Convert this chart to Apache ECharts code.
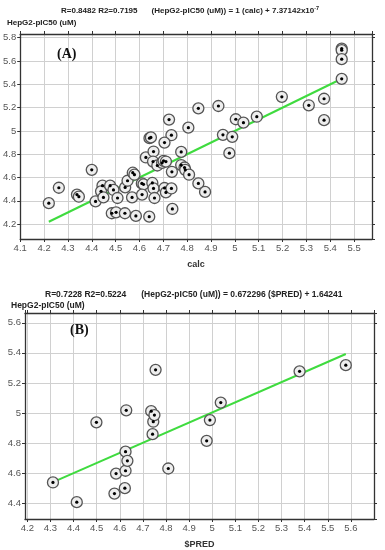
<!DOCTYPE html>
<html><head><meta charset="utf-8">
<script src="https://cdn.jsdelivr.net/npm/echarts@6/dist/echarts.min.js"></script>
<style>html,body{margin:0;padding:0;background:#fff}#c{width:385px;height:550px}</style>
</head><body><div id="c"></div>
<script>
// ---- Chart (A): calc vs observed HepG2-pIC50 ----
const calcA = [4.22,4.262,4.338,4.346,4.40,4.416,4.445,4.439,4.449,4.477,4.484,4.502,4.491,4.508,4.540,4.550,4.539,4.572,4.579,4.569,4.585,4.610,4.617,4.611,4.627,4.641,4.654,4.659,4.663,4.659,4.657,4.675,4.695,4.701,4.711,4.705,4.711,4.738,4.736,4.734,4.775,4.775,4.789,4.792,4.808,4.847,4.875,4.977,4.642,4.648,4.724,4.734,4.705,4.805,4.847,4.931,5.004,5.036,5.092,4.950,4.989,5.197,5.310,5.374,5.374,5.448,5.448,5.448,5.448];
const obsA  = [4.38,4.512,4.453,4.435,4.666,4.395,4.530,4.481,4.429,4.530,4.293,4.301,4.493,4.424,4.515,4.572,4.293,4.641,4.624,4.429,4.270,4.549,4.541,4.453,4.772,4.264,4.553,4.506,4.424,4.823,4.737,4.703,4.726,4.743,4.737,4.510,4.472,4.330,4.649,4.506,4.820,4.707,4.686,4.666,4.624,4.549,4.476,4.809,4.938,4.944,5.097,4.963,4.900,5.028,5.194,5.214,5.100,5.071,5.122,4.966,4.949,5.293,5.220,5.276,5.092,5.707,5.693,5.616,5.447];
const fitA = { slope: 1, intercept: 7.37142e-7 };
const titleA = ['R=0.8482 R2=0.7195', '(HepG2-pIC50 (uM)) = 1 (calc) + 7.37142x10', '-7'];
const xNameA = 'calc';
const xRangeA = [4.1, 5.575];
const yRangeA = [4.072, 5.832];

// ---- Chart (B): $PRED vs observed HepG2-pIC50 ----
const predB = [4.311,4.414,4.499,4.577,4.584,4.622,4.625,4.625,4.633,4.628,4.736,4.742,4.745,4.750,4.755,4.810,4.976,4.990,5.037,5.378,5.578];
const obsB  = [4.538,4.407,4.938,4.464,4.597,4.500,4.616,4.743,4.682,5.018,5.012,4.859,4.942,4.986,5.287,4.631,4.815,4.953,5.069,5.277,5.318];
const fitB = { slope: 0.672296, intercept: 1.64241 };
const titleB = ['R=0.7228 R2=0.5224', '(HepG2-pIC50 (uM)) = 0.672296 ($PRED) + 1.64241'];
const xNameB = '$PRED';
const xRangeB = [4.19, 5.7];
const yRangeB = [4.295, 5.665];

const yName = 'HepG2-pIC50 (uM)';
const panelA = '(A)';
const panelB = '(B)';

const GREEN = '#3fdb3f';
const FONT = "'Liberation Sans', Arial, sans-serif";
const SERIF = "'Liberation Serif', 'Times New Roman', serif";

function pairs(xs, ys) { return xs.map((x, i) => [x, ys[i]]); }
function fitLine(xs, fit) {
  const lo = Math.min(...xs), hi = Math.max(...xs);
  return [[lo, fit.slope * lo + fit.intercept], [hi, fit.slope * hi + fit.intercept]];
}

function mainX(grid, range, split, name, showMin) {
  return {
    type: 'value', gridIndex: grid, position: 'bottom', min: range[0], max: range[1], splitNumber: split,
    name: name, nameLocation: 'middle', nameGap: 21,
    nameTextStyle: { fontFamily: FONT, fontSize: 9, fontWeight: 'bold', color: '#333' },
    axisLine: { show: true, onZero: false, lineStyle: { color: '#333', width: 1.3 } },
    axisTick: { show: true, length: 3, lineStyle: { color: '#333' } },
    axisLabel: { fontFamily: FONT, fontSize: 9.5, color: '#555', margin: 4, showMinLabel: showMin, showMaxLabel: false },
    splitLine: { show: true, lineStyle: { color: '#d0d0d0', width: 1 } }
  };
}
function sideX(grid, range, split) {
  return {
    type: 'value', gridIndex: grid, position: 'top', min: range[0], max: range[1], splitNumber: split,
    axisLine: { show: true, onZero: false, lineStyle: { color: '#333', width: 1.3 } },
    axisTick: { show: true, length: 3, lineStyle: { color: '#333' } },
    axisLabel: { show: false }, splitLine: { show: false }
  };
}
function mainY(grid, range, split) {
  return {
    type: 'value', gridIndex: grid, position: 'left', min: range[0], max: range[1], splitNumber: split,
    axisLine: { show: true, onZero: false, lineStyle: { color: '#333', width: 1.3 } },
    axisTick: { show: true, length: 3, lineStyle: { color: '#333' } },
    axisLabel: { fontFamily: FONT, fontSize: 9.5, color: '#555', margin: 4, showMinLabel: false, showMaxLabel: false },
    splitLine: { show: true, lineStyle: { color: '#d0d0d0', width: 1 } }
  };
}
function sideY(grid, range, split) {
  return {
    type: 'value', gridIndex: grid, position: 'right', min: range[0], max: range[1], splitNumber: split,
    axisLine: { show: true, onZero: false, lineStyle: { color: '#333', width: 1.3 } },
    axisTick: { show: true, length: 3, lineStyle: { color: '#333' } },
    axisLabel: { show: false }, splitLine: { show: false }
  };
}
function seriesFor(xi, yi, xs, ys, fit) {
  const pts = pairs(xs, ys);
  return [
    { type: 'line', xAxisIndex: xi, yAxisIndex: yi, data: fitLine(xs, fit), symbol: 'none', z: 2,
      lineStyle: { color: GREEN, width: 2 }, silent: true },
    { type: 'scatter', xAxisIndex: xi, yAxisIndex: yi, data: pts, symbol: 'circle', symbolSize: 11, z: 3,
      itemStyle: { color: '#eeeeee', borderColor: '#555', borderWidth: 1.3, opacity: 1 } },
    { type: 'scatter', xAxisIndex: xi, yAxisIndex: yi, data: pts, symbol: 'circle', symbolSize: 3.2, z: 4,
      itemStyle: { color: '#000', opacity: 1 } }
  ];
}

const chart = echarts.init(document.getElementById('c'), null, { renderer: 'canvas' });
chart.setOption({
  animation: false,
  backgroundColor: '#fff',
  title: [
    { left: 61, top: 2, padding: 0, text: '{a|' + titleA[0] + '}{g|}{a|' + titleA[1] + '}{s|' + titleA[2] + '}',
      textStyle: { rich: {
        a: { fontFamily: FONT, fontSize: 8, color: '#222' },
        g: { width: 14 },
        s: { fontFamily: FONT, fontSize: 5.5, color: '#222', padding: [0, 0, 6, 0] } } } },
    { left: 7, top: 19, padding: 0, text: yName, textStyle: { fontFamily: FONT, fontSize: 8, fontWeight: 'bold', color: '#222' } },
    { left: 57, top: 47, padding: 0, text: panelA, textStyle: { fontFamily: SERIF, fontSize: 14, fontWeight: 'bold', color: '#111' } },
    { left: 45, top: 286, padding: 0, text: '{a|' + titleB[0] + '}{g|}{a|' + titleB[1] + '}',
      textStyle: { rich: {
        a: { fontFamily: FONT, fontSize: 8.5, color: '#222' },
        g: { width: 15 } } } },
    { left: 11, top: 301, padding: 0, text: yName, textStyle: { fontFamily: FONT, fontSize: 8.5, fontWeight: 'bold', color: '#222' } },
    { left: 70, top: 323, padding: 0, text: panelB, textStyle: { fontFamily: SERIF, fontSize: 14, fontWeight: 'bold', color: '#111' } }
  ],
  grid: [
    { left: 20, right: 13, top: 34, height: 205, containLabel: false },
    { left: 25, right: 11, top: 313, height: 209, containLabel: false }
  ],
  xAxis: [
    mainX(0, xRangeA, 14, xNameA, true), sideX(0, xRangeA, 14),
    mainX(1, xRangeB, 15, xNameB, false), sideX(1, xRangeB, 15)
  ],
  yAxis: [
    mainY(0, yRangeA, 9), sideY(0, yRangeA, 9),
    mainY(1, yRangeB, 7), sideY(1, yRangeB, 7)
  ],
  series: [
    ...seriesFor(0, 0, calcA, obsA, fitA),
    ...seriesFor(2, 2, predB, obsB, fitB)
  ]
});
</script></body></html>
